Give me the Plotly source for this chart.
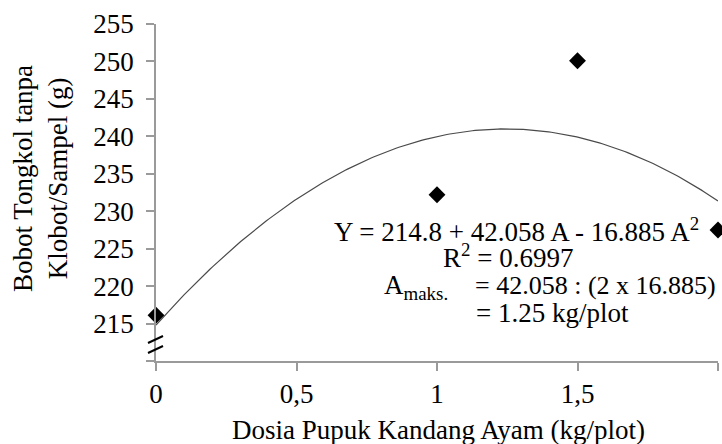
import numpy as np
import plotly.graph_objects as go

# Observed means per dose of chicken manure
dose = [0, 1, 1.5, 2]
weight = [216.1, 232.2, 250.1, 227.5]

# Quadratic regression: Y = b0 + b1*A + b2*A^2
coef = [214.8, 42.058, -16.885]

x_ticks = [0, 0.5, 1, 1.5, 2]
x_tick_text = ["0", "0,5", "1", "1,5", "2"]
y_ticks = [210, 215, 220, 225, 230, 235, 240, 245, 250, 255]
y_tick_text = [""] + [str(v) for v in y_ticks[1:]]

FONT = "Liberation Serif"
AXIS_GREY = "#9a9a9a"

W, H = 722, 444
L, R, T, B = 156, 4, 24, 83
PW, PH = W - L - R, H - T - B


def px(x):
    return (x - L) / PW


def py(y):
    return (H - B - y) / PH


a_line = np.linspace(0, 2, 200)
y_line = coef[0] + coef[1] * a_line + coef[2] * a_line ** 2

fig = go.Figure()
fig.add_trace(go.Scatter(
    x=a_line, y=y_line, mode="lines",
    line=dict(color="#4a4a4a", width=1.2),
    hoverinfo="skip", showlegend=False,
))
fig.add_trace(go.Scatter(
    x=dose, y=weight, mode="markers",
    marker=dict(symbol="diamond", size=13, color="black"),
    cliponaxis=False, showlegend=False,
))

fig.update_xaxes(
    range=[0, 2], tickvals=x_ticks, ticktext=x_tick_text,
    showline=True, linecolor=AXIS_GREY, linewidth=1.5,
    ticks="outside", ticklen=8, tickcolor=AXIS_GREY, tickwidth=1.5,
    showgrid=False, zeroline=False,
    tickfont=dict(family=FONT, size=27, color="black"),
)
fig.update_yaxes(
    range=[210, 255], tickvals=y_ticks, ticktext=y_tick_text,
    showline=True, linecolor=AXIS_GREY, linewidth=1.5,
    ticks="outside", ticklen=8, tickcolor=AXIS_GREY, tickwidth=1.5,
    ticklabelstandoff=7,
    showgrid=False, zeroline=False,
    tickfont=dict(family=FONT, size=27, color="black"),
)

# axis break marks on the y axis
for y0, y1 in [(343, 336), (353, 346)]:
    fig.add_shape(type="line", xref="paper", yref="paper",
                  x0=px(148), x1=px(163), y0=py(y0), y1=py(y1),
                  line=dict(color="black", width=2), layer="above")

ann_font = dict(family=FONT, size=27, color="black")
annotations = [
    dict(text="Y = 214.8 + 42.058 A - 16.885 A<sup>2</sup>",
         x=px(516.5), y=py(230), xanchor="center", yanchor="middle"),
    dict(text="R<sup>2</sup> = 0.6997",
         x=px(508), y=py(256), xanchor="center", yanchor="middle"),
    dict(text="A<sub>maks.</sub>",
         x=px(450), y=py(287), xanchor="right", yanchor="middle"),
    dict(text="= 42.058 : (2 x 16.885)",
         x=px(718), y=py(285), xanchor="right", yanchor="middle",
         font=dict(family=FONT, size=26, color="black")),
    dict(text="= 1.25 kg/plot",
         x=px(474), y=py(313), xanchor="left", yanchor="middle"),
    dict(text="Dosia Pupuk Kandang Ayam (kg/plot)",
         x=px(438), y=py(430), xanchor="center", yanchor="middle"),
    dict(text="Bobot Tongkol tanpa<br>Klobot/Sampel (g)", textangle=-90,
         x=px(40), y=py(179), xanchor="center", yanchor="middle"),
]
for a in annotations:
    a.setdefault("font", ann_font)
    a.update(xref="paper", yref="paper", showarrow=False)

fig.update_layout(
    width=W, height=H,
    margin=dict(l=L, r=R, t=T, b=B),
    paper_bgcolor="white", plot_bgcolor="white",
    annotations=annotations,
)

fig.write_html("out.html")
